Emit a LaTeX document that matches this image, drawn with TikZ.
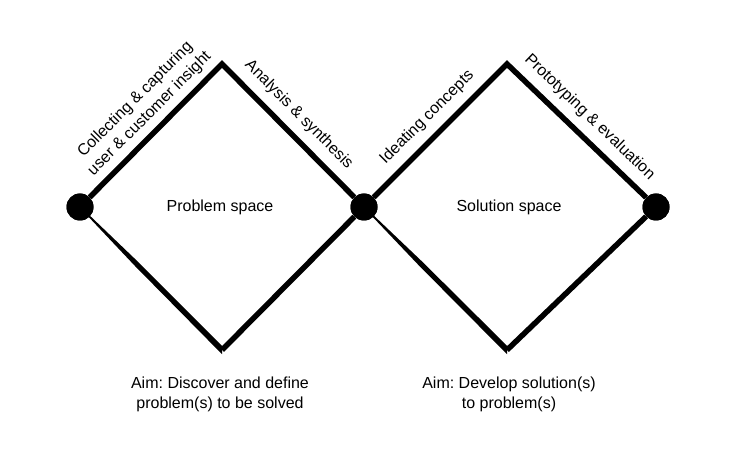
\documentclass[tikz,border=0pt]{standalone}
\usepackage{fontspec}
\setmainfont{Liberation Sans}
\usetikzlibrary{calc}
\frenchspacing

\begin{document}
\begin{tikzpicture}[
    x=1pt, y=-1pt,
    dot/.style={circle, fill=black, minimum size=27pt, inner sep=0pt},
    rim/.style={line width=5.5pt, line join=miter},
    lbl/.style={font=\fontsize{16}{20}\selectfont, align=center},
    side/.style={lbl, above, sloped, inner sep=8.5pt}
]
\useasboundingbox (0,0) rectangle (736,462);

% Corner points
\node[dot] (pl) at (80,207) {};
\node[dot] (pm) at (364,207) {};
\node[dot] (pr) at (656,207) {};
\coordinate (lt) at (222,64);
\coordinate (lb) at (222,350);
\coordinate (rt) at (507,64);
\coordinate (rb) at (507,350);

% Problem space diamond
\draw[rim] (pl) -- node[side, pos=0.54, inner sep=6pt] {Collecting \& capturing\\user \& customer insight}
    (lt) -- node[side, pos=0.48] {Analysis \& synthesis} (pm);
\draw[rim] (lb) -- (pm);
\fill ($(pl)+(0.4,-0.4)$) -- ($(pl)+(-0.4,0.4)$) -- ($(pl)!0.4!(lb)+(-1.8,1.8)$)
    -- ($(lb)+(0,4.2)$) -- ($(lb)+(0,-4.2)$) -- ($(pl)!0.4!(lb)+(1.8,-1.8)$) -- cycle;

% Solution space diamond
\draw[rim] (pm) -- node[side, pos=0.5] {Ideating concepts}
    (rt) -- node[side, pos=0.5] {Prototyping \& evaluation} (pr);
\draw[rim] (rb) -- (pr);
\fill ($(pm)+(0.4,-0.4)$) -- ($(pm)+(-0.4,0.4)$) -- ($(pm)!0.4!(rb)+(-1.8,1.8)$)
    -- ($(rb)+(0,4.2)$) -- ($(rb)+(0,-4.2)$) -- ($(pm)!0.4!(rb)+(1.8,-1.8)$) -- cycle;

% Dots on top
\node[dot] at (pl) {};
\node[dot] at (pm) {};
\node[dot] at (pr) {};

% Texts
\node[lbl] (prob) at (220,207) {Problem space};
\node[lbl] (sol) at (509,207) {Solution space};
\node[lbl] (aimprob) at (220,394) {Aim: Discover and define\\problem(s) to be solved};
\node[lbl] (aimsol) at (509,394) {Aim: Develop solution(s)\\to problem(s)};
\end{tikzpicture}
\end{document}
